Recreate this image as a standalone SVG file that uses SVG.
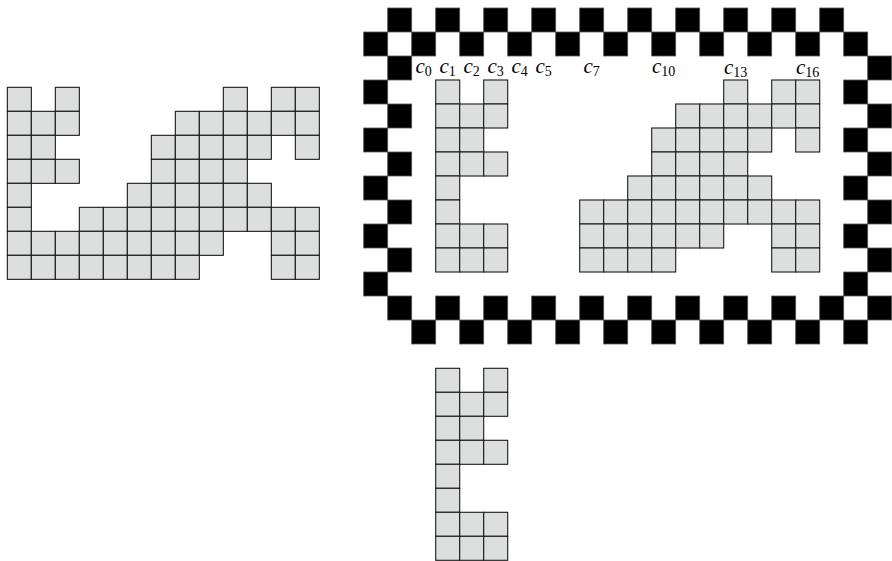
<svg xmlns="http://www.w3.org/2000/svg" width="892" height="561" viewBox="0 0 892 561">
<style>
.cell{fill:#dddfde;stroke:#1a1a1a;stroke-width:1.1}
.blk{fill:#000;stroke:#555;stroke-width:0.8}
.lbl{font-family:"Liberation Serif","DejaVu Serif",serif;font-size:21px;fill:#000;text-anchor:middle}
.it{font-style:italic}
.sub{font-size:14px}
</style>
<rect width="892" height="561" fill="#fff"/>
<g id="left-shape" transform="translate(7.33,87.33)">
<rect class="cell" x="0" y="0" width="24" height="24"/><rect class="cell" x="48" y="0" width="24" height="24"/><rect class="cell" x="216" y="0" width="24" height="24"/><rect class="cell" x="264" y="0" width="24" height="24"/><rect class="cell" x="288" y="0" width="24" height="24"/>
<rect class="cell" x="0" y="24" width="24" height="24"/><rect class="cell" x="24" y="24" width="24" height="24"/><rect class="cell" x="48" y="24" width="24" height="24"/><rect class="cell" x="168" y="24" width="24" height="24"/><rect class="cell" x="192" y="24" width="24" height="24"/><rect class="cell" x="216" y="24" width="24" height="24"/><rect class="cell" x="240" y="24" width="24" height="24"/><rect class="cell" x="264" y="24" width="24" height="24"/><rect class="cell" x="288" y="24" width="24" height="24"/>
<rect class="cell" x="0" y="48" width="24" height="24"/><rect class="cell" x="24" y="48" width="24" height="24"/><rect class="cell" x="144" y="48" width="24" height="24"/><rect class="cell" x="168" y="48" width="24" height="24"/><rect class="cell" x="192" y="48" width="24" height="24"/><rect class="cell" x="216" y="48" width="24" height="24"/><rect class="cell" x="240" y="48" width="24" height="24"/><rect class="cell" x="288" y="48" width="24" height="24"/>
<rect class="cell" x="0" y="72" width="24" height="24"/><rect class="cell" x="24" y="72" width="24" height="24"/><rect class="cell" x="48" y="72" width="24" height="24"/><rect class="cell" x="144" y="72" width="24" height="24"/><rect class="cell" x="168" y="72" width="24" height="24"/><rect class="cell" x="192" y="72" width="24" height="24"/><rect class="cell" x="216" y="72" width="24" height="24"/>
<rect class="cell" x="0" y="96" width="24" height="24"/><rect class="cell" x="120" y="96" width="24" height="24"/><rect class="cell" x="144" y="96" width="24" height="24"/><rect class="cell" x="168" y="96" width="24" height="24"/><rect class="cell" x="192" y="96" width="24" height="24"/><rect class="cell" x="216" y="96" width="24" height="24"/><rect class="cell" x="240" y="96" width="24" height="24"/>
<rect class="cell" x="0" y="120" width="24" height="24"/><rect class="cell" x="72" y="120" width="24" height="24"/><rect class="cell" x="96" y="120" width="24" height="24"/><rect class="cell" x="120" y="120" width="24" height="24"/><rect class="cell" x="144" y="120" width="24" height="24"/><rect class="cell" x="168" y="120" width="24" height="24"/><rect class="cell" x="192" y="120" width="24" height="24"/><rect class="cell" x="216" y="120" width="24" height="24"/><rect class="cell" x="240" y="120" width="24" height="24"/><rect class="cell" x="264" y="120" width="24" height="24"/><rect class="cell" x="288" y="120" width="24" height="24"/>
<rect class="cell" x="0" y="144" width="24" height="24"/><rect class="cell" x="24" y="144" width="24" height="24"/><rect class="cell" x="48" y="144" width="24" height="24"/><rect class="cell" x="72" y="144" width="24" height="24"/><rect class="cell" x="96" y="144" width="24" height="24"/><rect class="cell" x="120" y="144" width="24" height="24"/><rect class="cell" x="144" y="144" width="24" height="24"/><rect class="cell" x="168" y="144" width="24" height="24"/><rect class="cell" x="192" y="144" width="24" height="24"/><rect class="cell" x="264" y="144" width="24" height="24"/><rect class="cell" x="288" y="144" width="24" height="24"/>
<rect class="cell" x="0" y="168" width="24" height="24"/><rect class="cell" x="24" y="168" width="24" height="24"/><rect class="cell" x="48" y="168" width="24" height="24"/><rect class="cell" x="72" y="168" width="24" height="24"/><rect class="cell" x="96" y="168" width="24" height="24"/><rect class="cell" x="120" y="168" width="24" height="24"/><rect class="cell" x="144" y="168" width="24" height="24"/><rect class="cell" x="168" y="168" width="24" height="24"/><rect class="cell" x="264" y="168" width="24" height="24"/><rect class="cell" x="288" y="168" width="24" height="24"/>
</g>
<g id="frame" transform="translate(363.7,8)">
<rect class="blk" x="24" y="0" width="24" height="24"/><rect class="blk" x="72" y="0" width="24" height="24"/><rect class="blk" x="120" y="0" width="24" height="24"/><rect class="blk" x="168" y="0" width="24" height="24"/><rect class="blk" x="216" y="0" width="24" height="24"/><rect class="blk" x="264" y="0" width="24" height="24"/><rect class="blk" x="312" y="0" width="24" height="24"/><rect class="blk" x="360" y="0" width="24" height="24"/><rect class="blk" x="408" y="0" width="24" height="24"/><rect class="blk" x="456" y="0" width="24" height="24"/>
<rect class="blk" x="0" y="24" width="24" height="24"/><rect class="blk" x="48" y="24" width="24" height="24"/><rect class="blk" x="96" y="24" width="24" height="24"/><rect class="blk" x="144" y="24" width="24" height="24"/><rect class="blk" x="192" y="24" width="24" height="24"/><rect class="blk" x="240" y="24" width="24" height="24"/><rect class="blk" x="288" y="24" width="24" height="24"/><rect class="blk" x="336" y="24" width="24" height="24"/><rect class="blk" x="384" y="24" width="24" height="24"/><rect class="blk" x="432" y="24" width="24" height="24"/><rect class="blk" x="480" y="24" width="24" height="24"/>
<rect class="blk" x="24" y="288" width="24" height="24"/><rect class="blk" x="72" y="288" width="24" height="24"/><rect class="blk" x="120" y="288" width="24" height="24"/><rect class="blk" x="168" y="288" width="24" height="24"/><rect class="blk" x="216" y="288" width="24" height="24"/><rect class="blk" x="264" y="288" width="24" height="24"/><rect class="blk" x="312" y="288" width="24" height="24"/><rect class="blk" x="360" y="288" width="24" height="24"/><rect class="blk" x="408" y="288" width="24" height="24"/><rect class="blk" x="456" y="288" width="24" height="24"/><rect class="blk" x="504" y="288" width="24" height="24"/>
<rect class="blk" x="48" y="312" width="24" height="24"/><rect class="blk" x="96" y="312" width="24" height="24"/><rect class="blk" x="144" y="312" width="24" height="24"/><rect class="blk" x="192" y="312" width="24" height="24"/><rect class="blk" x="240" y="312" width="24" height="24"/><rect class="blk" x="288" y="312" width="24" height="24"/><rect class="blk" x="336" y="312" width="24" height="24"/><rect class="blk" x="384" y="312" width="24" height="24"/><rect class="blk" x="432" y="312" width="24" height="24"/><rect class="blk" x="480" y="312" width="24" height="24"/>
<rect class="blk" x="0" y="72" width="24" height="24"/><rect class="blk" x="0" y="120" width="24" height="24"/><rect class="blk" x="0" y="168" width="24" height="24"/><rect class="blk" x="0" y="216" width="24" height="24"/><rect class="blk" x="0" y="264" width="24" height="24"/>
<rect class="blk" x="24" y="48" width="24" height="24"/><rect class="blk" x="24" y="96" width="24" height="24"/><rect class="blk" x="24" y="144" width="24" height="24"/><rect class="blk" x="24" y="192" width="24" height="24"/><rect class="blk" x="24" y="240" width="24" height="24"/>
<rect class="blk" x="480" y="72" width="24" height="24"/><rect class="blk" x="480" y="120" width="24" height="24"/><rect class="blk" x="480" y="168" width="24" height="24"/><rect class="blk" x="480" y="216" width="24" height="24"/><rect class="blk" x="480" y="264" width="24" height="24"/>
<rect class="blk" x="504" y="48" width="24" height="24"/><rect class="blk" x="504" y="96" width="24" height="24"/><rect class="blk" x="504" y="144" width="24" height="24"/><rect class="blk" x="504" y="192" width="24" height="24"/><rect class="blk" x="504" y="240" width="24" height="24"/>
</g>
<g id="framed-shape" transform="translate(435.7,80)">
<rect class="cell" x="0" y="0" width="24" height="24"/><rect class="cell" x="48" y="0" width="24" height="24"/><rect class="cell" x="288" y="0" width="24" height="24"/><rect class="cell" x="336" y="0" width="24" height="24"/><rect class="cell" x="360" y="0" width="24" height="24"/>
<rect class="cell" x="0" y="24" width="24" height="24"/><rect class="cell" x="24" y="24" width="24" height="24"/><rect class="cell" x="48" y="24" width="24" height="24"/><rect class="cell" x="240" y="24" width="24" height="24"/><rect class="cell" x="264" y="24" width="24" height="24"/><rect class="cell" x="288" y="24" width="24" height="24"/><rect class="cell" x="312" y="24" width="24" height="24"/><rect class="cell" x="336" y="24" width="24" height="24"/><rect class="cell" x="360" y="24" width="24" height="24"/>
<rect class="cell" x="0" y="48" width="24" height="24"/><rect class="cell" x="24" y="48" width="24" height="24"/><rect class="cell" x="216" y="48" width="24" height="24"/><rect class="cell" x="240" y="48" width="24" height="24"/><rect class="cell" x="264" y="48" width="24" height="24"/><rect class="cell" x="288" y="48" width="24" height="24"/><rect class="cell" x="312" y="48" width="24" height="24"/><rect class="cell" x="360" y="48" width="24" height="24"/>
<rect class="cell" x="0" y="72" width="24" height="24"/><rect class="cell" x="24" y="72" width="24" height="24"/><rect class="cell" x="48" y="72" width="24" height="24"/><rect class="cell" x="216" y="72" width="24" height="24"/><rect class="cell" x="240" y="72" width="24" height="24"/><rect class="cell" x="264" y="72" width="24" height="24"/><rect class="cell" x="288" y="72" width="24" height="24"/>
<rect class="cell" x="0" y="96" width="24" height="24"/><rect class="cell" x="192" y="96" width="24" height="24"/><rect class="cell" x="216" y="96" width="24" height="24"/><rect class="cell" x="240" y="96" width="24" height="24"/><rect class="cell" x="264" y="96" width="24" height="24"/><rect class="cell" x="288" y="96" width="24" height="24"/><rect class="cell" x="312" y="96" width="24" height="24"/>
<rect class="cell" x="0" y="120" width="24" height="24"/><rect class="cell" x="144" y="120" width="24" height="24"/><rect class="cell" x="168" y="120" width="24" height="24"/><rect class="cell" x="192" y="120" width="24" height="24"/><rect class="cell" x="216" y="120" width="24" height="24"/><rect class="cell" x="240" y="120" width="24" height="24"/><rect class="cell" x="264" y="120" width="24" height="24"/><rect class="cell" x="288" y="120" width="24" height="24"/><rect class="cell" x="312" y="120" width="24" height="24"/><rect class="cell" x="336" y="120" width="24" height="24"/><rect class="cell" x="360" y="120" width="24" height="24"/>
<rect class="cell" x="0" y="144" width="24" height="24"/><rect class="cell" x="24" y="144" width="24" height="24"/><rect class="cell" x="48" y="144" width="24" height="24"/><rect class="cell" x="144" y="144" width="24" height="24"/><rect class="cell" x="168" y="144" width="24" height="24"/><rect class="cell" x="192" y="144" width="24" height="24"/><rect class="cell" x="216" y="144" width="24" height="24"/><rect class="cell" x="240" y="144" width="24" height="24"/><rect class="cell" x="264" y="144" width="24" height="24"/><rect class="cell" x="336" y="144" width="24" height="24"/><rect class="cell" x="360" y="144" width="24" height="24"/>
<rect class="cell" x="0" y="168" width="24" height="24"/><rect class="cell" x="24" y="168" width="24" height="24"/><rect class="cell" x="48" y="168" width="24" height="24"/><rect class="cell" x="144" y="168" width="24" height="24"/><rect class="cell" x="168" y="168" width="24" height="24"/><rect class="cell" x="192" y="168" width="24" height="24"/><rect class="cell" x="216" y="168" width="24" height="24"/><rect class="cell" x="336" y="168" width="24" height="24"/><rect class="cell" x="360" y="168" width="24" height="24"/>
</g>
<g id="bottom-shape" transform="translate(435.7,368.3)">
<rect class="cell" x="0" y="0" width="24" height="24"/><rect class="cell" x="48" y="0" width="24" height="24"/>
<rect class="cell" x="0" y="24" width="24" height="24"/><rect class="cell" x="24" y="24" width="24" height="24"/><rect class="cell" x="48" y="24" width="24" height="24"/>
<rect class="cell" x="0" y="48" width="24" height="24"/><rect class="cell" x="24" y="48" width="24" height="24"/>
<rect class="cell" x="0" y="72" width="24" height="24"/><rect class="cell" x="24" y="72" width="24" height="24"/><rect class="cell" x="48" y="72" width="24" height="24"/>
<rect class="cell" x="0" y="96" width="24" height="24"/>
<rect class="cell" x="0" y="120" width="24" height="24"/>
<rect class="cell" x="0" y="144" width="24" height="24"/><rect class="cell" x="24" y="144" width="24" height="24"/><rect class="cell" x="48" y="144" width="24" height="24"/>
<rect class="cell" x="0" y="168" width="24" height="24"/><rect class="cell" x="24" y="168" width="24" height="24"/><rect class="cell" x="48" y="168" width="24" height="24"/>
</g>
<g id="labels">
<text class="lbl" x="423.7" y="72.5"><tspan class="it">c</tspan><tspan class="sub" dy="3">0</tspan></text>
<text class="lbl" x="447.7" y="72.5"><tspan class="it">c</tspan><tspan class="sub" dy="3">1</tspan></text>
<text class="lbl" x="471.7" y="72.5"><tspan class="it">c</tspan><tspan class="sub" dy="3">2</tspan></text>
<text class="lbl" x="495.7" y="72.5"><tspan class="it">c</tspan><tspan class="sub" dy="3">3</tspan></text>
<text class="lbl" x="519.7" y="72.5"><tspan class="it">c</tspan><tspan class="sub" dy="3">4</tspan></text>
<text class="lbl" x="543.7" y="72.5"><tspan class="it">c</tspan><tspan class="sub" dy="3">5</tspan></text>
<text class="lbl" x="591.7" y="72.5"><tspan class="it">c</tspan><tspan class="sub" dy="3">7</tspan></text>
<text class="lbl" x="663.7" y="73"><tspan class="it">c</tspan><tspan class="sub" dy="3">10</tspan></text>
<text class="lbl" x="735.7" y="74"><tspan class="it">c</tspan><tspan class="sub" dy="3">13</tspan></text>
<text class="lbl" x="807.7" y="74"><tspan class="it">c</tspan><tspan class="sub" dy="3">16</tspan></text>
</g>
</svg>
